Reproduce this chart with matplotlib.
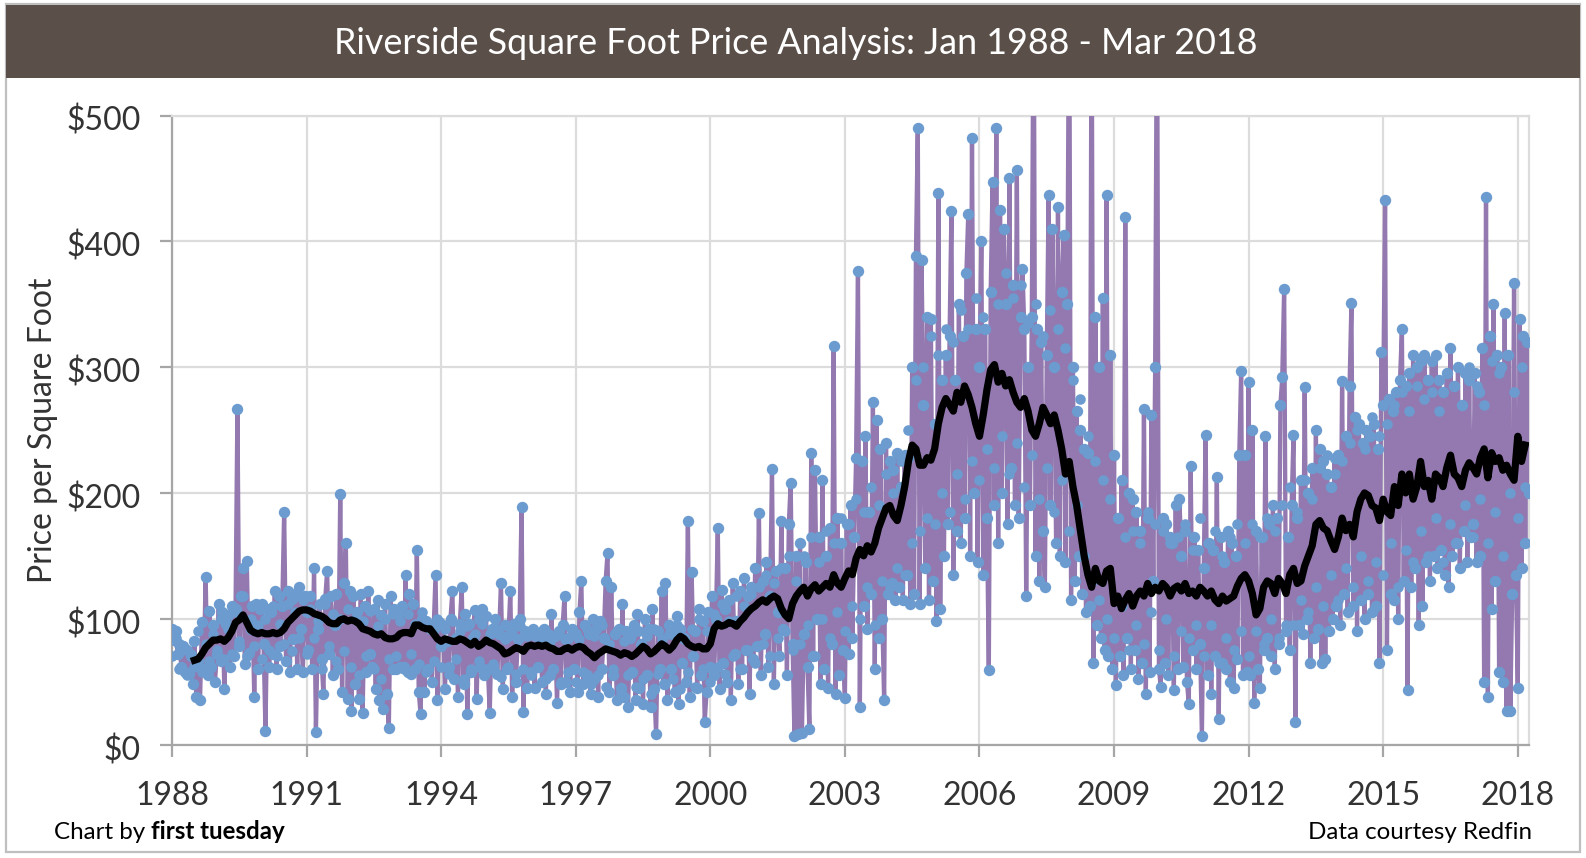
import numpy as np
import matplotlib
matplotlib.use('Agg')
import matplotlib.pyplot as plt
from matplotlib.patches import Rectangle
from matplotlib.transforms import ScaledTranslation

# half-month readings, one row per year
price_1988 = [92,83,90,72,80,62,78,58,75,56,70,48,82,38,66,35,97,60,133,55,106,62,95,50]
price_1989 = [72,112,66,105,44,96,103,62,110,70,108,267,78,118,140,64,146,73,92,110,38,112,60,108]
price_1990 = [112,80,11,108,62,105,72,122,60,118,78,110,185,66,122,58,116,84,120,60,125,92,58,118]
price_1991 = [105,75,118,60,140,10,92,112,68,40,116,138,72,118,55,95,120,60,199,42,128,160,36,122]
price_1992 = [27,118,48,105,36,120,25,110,58,122,72,62,108,44,115,35,103,28,112,40,13,118,60,108]
price_1993 = [60,104,62,110,62,135,58,120,56,112,60,155,42,24,100,42,98,60,95,50,92,135,35,97]
price_1994 = [78,95,44,82,62,100,122,52,85,38,96,125,48,104,24,96,58,85,107,36,100,62,108,55]
price_1995 = [102,60,25,92,62,100,56,88,128,44,95,60,86,122,38,96,50,84,100,189,26,90,45,88]
price_1996 = [58,92,45,88,62,85,50,92,40,88,55,104,60,86,33,90,48,95,118,50,85,42,92,60]
price_1997 = [88,42,105,130,48,95,55,88,40,100,52,92,38,98,60,85,130,152,42,125,55,88,35,92]
price_1998 = [45,112,38,90,30,85,58,95,35,104,45,80,32,100,55,92,30,108,44,8,90,60,122,48]
price_1999 = [128,35,95,60,88,42,102,32,92,65,85,50,178,38,137,70,90,45,108,55,98,18,42,105]
price_2000 = [62,118,55,100,172,44,123,65,108,50,115,35,128,72,98,48,122,60,132,75,118,40,125,68]
price_2001 = [140,78,184,55,130,88,145,62,118,219,48,138,105,70,178,92,140,55,175,208,80,7,150,8]
price_2002 = [160,9,88,145,62,12,232,70,218,100,165,48,210,60,150,45,172,80,317,40,180,55,160,75]
price_2003 = [37,175,72,190,85,165,228,376,30,225,110,245,92,185,120,272,60,258,85,235,100,35,240,120]
price_2004 = [225,128,218,115,232,125,205,115,230,135,228,112,300,120,388,490,112,385,270,140,340,115,338,130]
price_2005 = [255,98,438,108,290,150,310,175,325,424,135,290,170,350,160,325,180,375,422,150,482,200,330,145]
price_2006 = [300,400,135,330,180,59,360,447,190,490,160,425,200,410,350,175,450,220,365,190,457,180,340,378]
price_2007 = [330,118,300,190,340,620,150,330,130,320,170,125,310,437,190,410,300,160,427,150,360,405,145,350]
price_2008 = [620,115,300,130,265,150,250,120,235,105,232,110,620,65,340,95,300,85,355,75,437,70,310,60]
price_2009 = [230,47,180,70,210,55,419,85,200,60,195,75,185,52,170,65,267,40,180,58,262,130,300,620]
price_2010 = [60,46,180,65,175,55,165,160,43,190,60,195,150,62,170,50,32,221,75,165,60,155,80,7]
price_2011 = [140,246,55,160,40,155,70,213,20,165,65,145,60,170,50,160,45,150,68,230,297,55,230,58]
price_2012 = [288,55,250,33,170,60,45,165,75,245,85,175,70,190,60,180,80,270,292,362,90,165,75,190]
price_2013 = [246,18,180,95,210,88,284,100,200,65,220,85,250,92,235,65,225,68,215,90,205,100,228,110]
price_2014 = [230,95,289,120,245,105,285,351,110,260,90,255,115,240,100,250,120,245,105,255,110,235,65,312]
price_2015 = [270,433,75,275,120,265,115,280,100,290,330,130,285,43,295,125,310,140,300,95,305,110,310,145]
price_2016 = [290,130,305,150,310,140,290,155,280,135,295,125,315,150,285,160,300,140,270,170,295,145,290,165]
price_2017 = [175,295,145,280,150,315,50,435,38,325,108,350,130,310,58,300,50,343,27,310,27,120,367,135]
price_2018 = [45,338,140,325,160,320,200]

# dots inside the cloud, monthly
inner_1988 = [70,85,60,78,55,72,62,90,58,80,66,88]
inner_1989 = [75,100,68,92,72,105,82,118,70,100,78,95]
inner_1990 = [68,100,75,110,70,96,80,112,74,105,85,115]
inner_1991 = [72,108,85,98,60,112,78,104,66,100,74,108]
inner_1992 = [62,100,55,98,70,106,60,94,52,100,68,104]
inner_1993 = [70,98,60,104,72,96,64,105,58,92,66,100]
inner_1994 = [62,92,56,98,68,90,52,94,60,88,66,96]
inner_1995 = [58,88,64,92,54,84,62,90,56,94,60,86]
inner_1996 = [55,86,62,90,52,82,60,88,50,84,58,92]
inner_1997 = [50,84,58,92,48,86,55,95,46,80,60,90]
inner_1998 = [42,82,55,88,46,90,52,86,40,92,56,84]
inner_1999 = [48,88,52,95,44,84,58,92,46,100,60,90]
inner_2000 = [50,104,62,112,56,98,70,118,60,110,75,120]
inner_2001 = [65,125,80,135,70,128,85,140,90,150,75,130]
inner_2002 = [80,150,95,165,70,145,100,170,85,160,105,180]
inner_2003 = [90,175,110,195,100,185,125,205,95,190,130,215]
inner_2004 = [125,200,140,225,135,250,160,290,170,300,180,325]
inner_2005 = [175,310,200,330,185,320,215,345,195,330,225,355]
inner_2006 = [210,340,235,360,220,350,245,375,215,355,240,365]
inner_2007 = [205,335,230,350,195,325,220,345,185,330,210,315]
inner_2008 = [170,290,190,275,150,245,130,225,115,210,100,195]
inner_2009 = [85,180,110,165,75,170,95,160,80,185,105,175]
inner_2010 = [75,170,100,160,70,165,90,175,85,155,95,180]
inner_2011 = [70,160,95,170,65,150,85,165,75,175,90,160]
inner_2012 = [70,175,90,165,80,180,100,170,85,190,95,205]
inner_2013 = [95,185,115,210,105,195,125,220,110,230,135,215]
inner_2014 = [115,225,140,240,125,250,150,235,130,260,145,245]
inner_2015 = [135,255,160,270,125,280,155,265,145,285,170,275]
inner_2016 = [150,280,180,265,145,295,175,285,160,270,190,300]
inner_2017 = [165,285,195,270,160,305,185,295,150,310,200,280]
inner_2018 = [180,300,205]

# black line, monthly, starts Jul 1988
avg_1988 = [67,68,72,77,80,83]
avg_1989 = [83,84,82,85,90,97,99,103,97,91,89,88]
avg_1990 = [89,88,88,89,88,89,92,97,100,103,106,107]
avg_1991 = [107,106,104,103,102,100,97,96,96,99,100,98]
avg_1992 = [99,98,96,92,91,90,88,87,88,85,84,84]
avg_1993 = [85,88,89,89,88,95,95,93,92,92,88,84]
avg_1994 = [82,84,83,82,82,84,83,81,79,82,78,80]
avg_1995 = [83,81,80,78,76,72,73,75,77,76,74,78]
avg_1996 = [79,78,79,78,79,77,76,74,74,76,77,75]
avg_1997 = [77,78,77,74,72,69,72,74,76,75,74,73]
avg_1998 = [71,73,72,70,72,75,78,76,72,74,77,80]
avg_1999 = [78,75,78,83,86,84,80,78,77,78,76,76]
avg_2000 = [80,92,96,94,95,97,96,94,98,101,105,108]
avg_2001 = [110,113,115,113,116,118,116,108,103,100,112,118]
avg_2002 = [122,125,118,124,127,122,125,128,125,135,128,125]
avg_2003 = [132,138,135,148,155,150,158,153,160,172,180,188]
avg_2004 = [190,182,178,190,205,225,238,235,222,222,228,226]
avg_2005 = [235,255,268,275,270,265,280,272,285,278,268,255]
avg_2006 = [245,262,282,298,302,288,295,285,290,280,272,268]
avg_2007 = [275,265,250,245,255,268,262,255,262,250,235,215]
avg_2008 = [225,205,190,170,150,135,125,140,130,128,138,140]
avg_2009 = [112,118,108,115,120,110,118,122,118,128,120,125]
avg_2010 = [122,128,125,118,124,126,122,128,120,122,118,125]
avg_2011 = [122,118,122,115,112,118,114,116,118,126,132,135]
avg_2012 = [130,120,103,108,125,130,128,120,132,128,120,135]
avg_2013 = [140,128,130,142,150,158,175,178,172,170,162,155]
avg_2014 = [165,180,170,175,165,185,195,200,198,190,188,178]
avg_2015 = [195,185,182,205,190,215,200,215,195,205,225,205]
avg_2016 = [210,195,215,212,205,220,230,215,212,205,218,224]
avg_2017 = [220,215,228,235,212,232,225,228,218,222,215,210]
avg_2018 = [245,225,238]

year_ticks = [1988,1991,1994,1997,2000,2003,2006,2009,2012,2015,2018]
price_ticks = [0,100,200,300,400,500]
title = 'Riverside Square Foot Price Analysis: Jan 1988 - Mar 2018'

years = range(1988, 2019)
price = np.array(sum([globals()['price_%d' % y] for y in years], []))
price_x = 1988 + np.arange(len(price)) / 24
inner = np.array(sum([globals()['inner_%d' % y] for y in years], []))
inner_x = 1988 + np.arange(len(inner)) / 12
avg = np.array(sum([globals()['avg_%d' % y] for y in years], []))
avg_x = 1988.5 + np.arange(len(avg)) / 12

W, H = 1586, 858
plt.rcParams['font.family'] = ['Lato', 'DejaVu Sans']
fig = plt.figure(figsize=(W / 100, H / 100), dpi=100)

# frame and title bar
fig.patches.append(Rectangle((6 / W, 1 - 852 / H), 1574 / W, 848 / H, transform=fig.transFigure,
                             fc='white', ec='#bfbfbf', lw=1.6, zorder=-2))
fig.patches.append(Rectangle((6 / W, 1 - 78 / H), 1574 / W, 73 / H, transform=fig.transFigure,
                             fc='#5a4f49', ec='none', zorder=-1))
fig.text(796 / W, 1 - 43 / H, title, color='white', fontsize=25.8, ha='center', va='center')

ax = fig.add_axes([172 / W, 1 - 744.5 / H, 1357 / W, 629 / H])
ax.patch.set_alpha(0)
ax.set_xlim(1988, 2018.25)
ax.set_ylim(0, 500)
ax.set_xticks(year_ticks)
ax.set_yticks(price_ticks)
ax.set_yticklabels(['$%d' % p for p in price_ticks])
ax.grid(True, color='#dcdcdc', lw=1.6)
ax.set_axisbelow(True)
for s in ['top', 'right']:
    ax.spines[s].set_color('#dcdcdc')
    ax.spines[s].set_linewidth(1.6)
for s in ['left', 'bottom']:
    ax.spines[s].set_color('#a6a6a6')
    ax.spines[s].set_linewidth(1.6)
ax.tick_params(axis='both', color='#a6a6a6', width=1.6, length=8.5, labelsize=23, labelcolor='#333333')
ax.tick_params(axis='x', pad=17.5)
ax.tick_params(axis='y', pad=14)
ax.set_ylabel('Price per Square Foot', fontsize=23, color='#333333', labelpad=6)

# y labels sit slightly below their gridlines in the original
down = ScaledTranslation(0, -3 / 100, fig.dpi_scale_trans)
for lab in ax.get_yticklabels():
    lab.set_transform(lab.get_transform() + down)

ax.plot(price_x, price, color='#9379b0', lw=3.1, marker='o', ms=8.2, mfc='#6b9bcf', mec='#6b9bcf', mew=0, zorder=3)
ax.plot(inner_x, inner, ls='none', marker='o', ms=7.6, mfc='#6b9bcf', mec='#6b9bcf', mew=0, zorder=3)
ax.plot(avg_x, avg, color='black', lw=5.2, solid_joinstyle='round', zorder=4)

by = fig.text(54 / W, 1 - 839 / H, 'Chart by ', fontsize=17.4, color='black', va='baseline')
fig.canvas.draw()
box = by.get_window_extent()
fig.text(box.x1 / W, 1 - 839 / H, 'first tuesday', fontsize=17.4, fontweight='bold', color='black', va='baseline')
fig.text(1532 / W, 1 - 839 / H, 'Data courtesy Redfin', fontsize=17.4, color='black', ha='right', va='baseline')

fig.savefig('out.png', dpi=100)
